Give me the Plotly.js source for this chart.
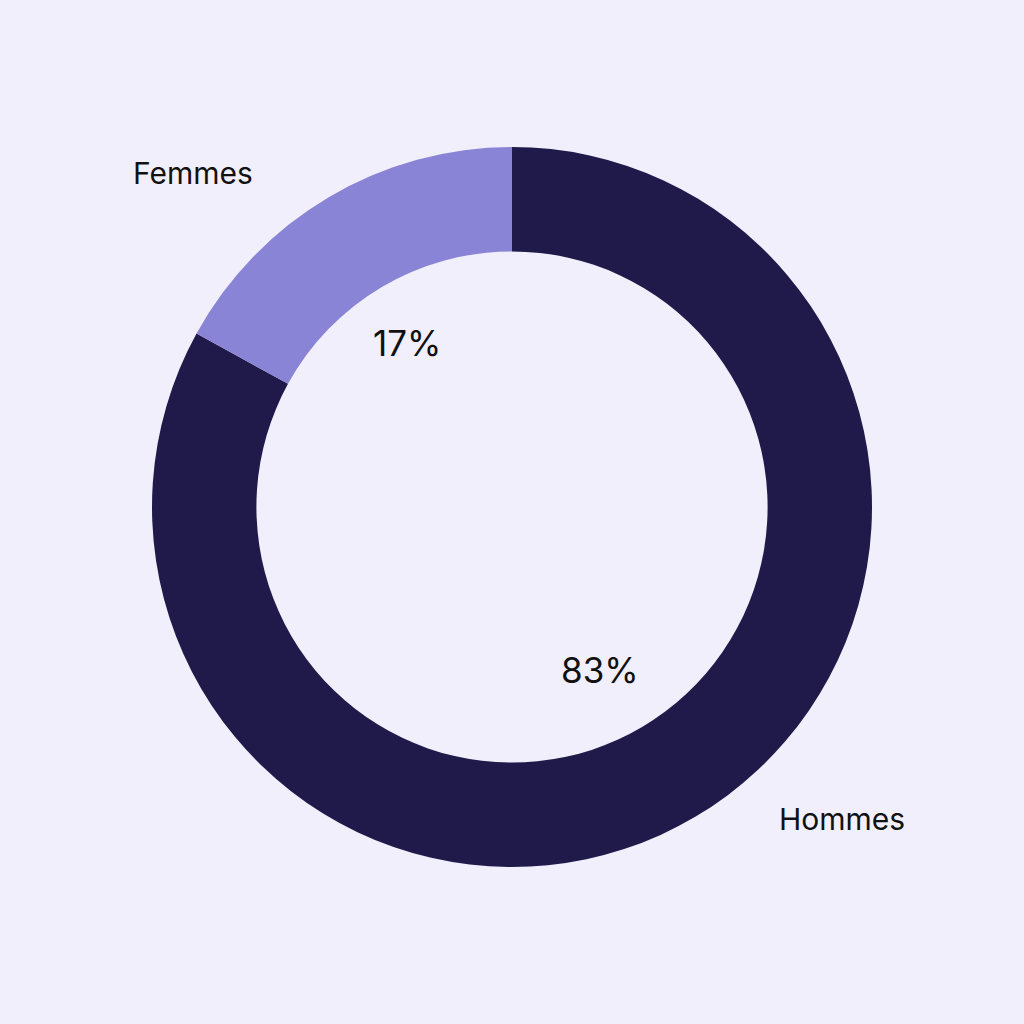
<!DOCTYPE html>
<html>
<head>
<meta charset="utf-8">
<script src="https://cdn.plot.ly/plotly-3.0.1.min.js"></script>
<style>html,body{margin:0;padding:0;background:#f1effc;}#chart{width:1024px;height:1024px;}</style>
</head>
<body>
<div id="chart"></div>
<script>
const categories = ['Hommes', 'Femmes'];
const values = [83, 17];
const colors = ['#201a4a', '#8a84d6'];

const font = 'Inter, "Noto Sans", sans-serif';
const labelPos = [[0.8223, 0.2002], [0.1885, 0.831]];
const pctPos = [[0.586, 0.3457], [0.3975, 0.665]];

const annotations = [];
categories.forEach((c, i) => {
  annotations.push({text: c, x: labelPos[i][0], y: labelPos[i][1], xref: 'paper', yref: 'paper',
    showarrow: false, font: {family: font, size: 30, color: '#111111'}, xanchor: 'center', yanchor: 'middle'});
  annotations.push({text: values[i] + '%', x: pctPos[i][0], y: pctPos[i][1], xref: 'paper', yref: 'paper',
    showarrow: false, font: {family: font, size: 35, color: '#111111'}, xanchor: 'center', yanchor: 'middle'});
});

Plotly.newPlot('chart', [{
  type: 'pie',
  labels: categories,
  values: values,
  hole: 0.71,
  sort: false,
  direction: 'clockwise',
  rotation: 0,
  textinfo: 'none',
  marker: {colors: colors, line: {width: 0}},
  domain: {x: [152/1024, 872/1024], y: [1 - 867/1024, 1 - 147/1024]},
  showlegend: false,
  hoverinfo: 'label+percent'
}], {
  width: 1024, height: 1024,
  margin: {l: 0, r: 0, t: 0, b: 0},
  paper_bgcolor: '#f1effc',
  plot_bgcolor: '#f1effc',
  showlegend: false,
  annotations: annotations
}, {staticPlot: true});
</script>
</body>
</html>
